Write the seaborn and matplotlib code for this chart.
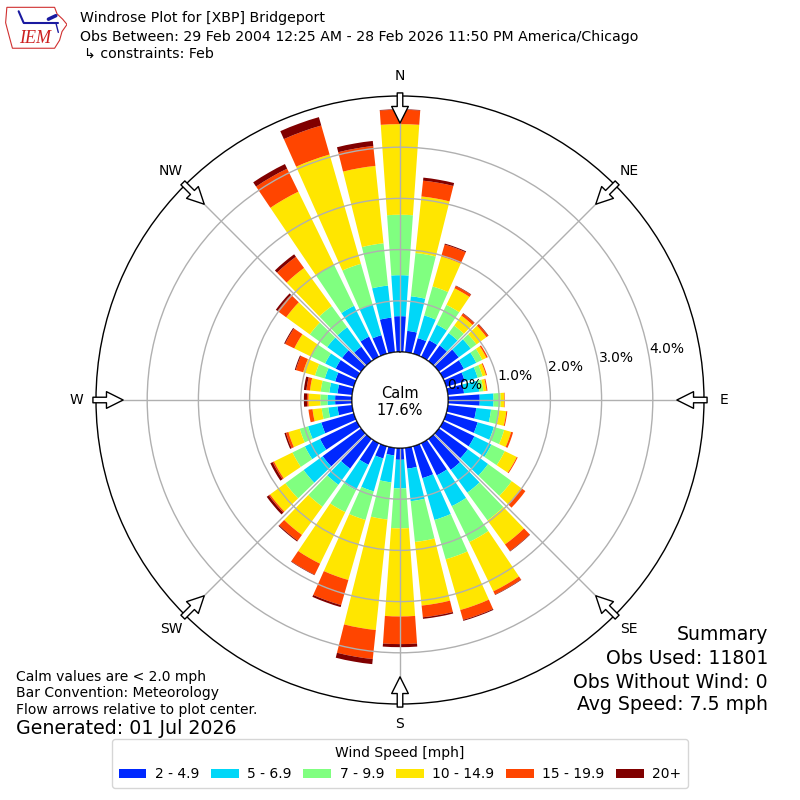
import numpy as np
import matplotlib
matplotlib.use("Agg")
import matplotlib.pyplot as plt
import seaborn as sns
from matplotlib.patches import Circle, Patch, Polygon

# ---------------- data (percent of observations) ----------------
directions = list(range(0, 360, 10))
speed_bins = ["2 - 4.9", "5 - 6.9", "7 - 9.9", "10 - 14.9", "15 - 19.9", "20+"]
bin_colors = ["#0028ff", "#00d7f8", "#80ff80", "#ffe600", "#ff4500", "#800000"]

pct_2_5 = [0.70, 0.42, 0.32, 0.36, 0.38, 0.48, 0.45, 0.38, 0.32, 0.62, 0.56, 0.64,
           0.68, 0.70, 0.75, 0.70, 0.65, 0.41, 0.23, 0.15, 0.25, 0.47, 0.72, 0.93,
           0.80, 0.66, 0.29, 0.33, 0.29, 0.38, 0.46, 0.46, 0.35, 0.44, 0.38, 0.68]
pct_5_7 = [0.80, 0.68, 0.46, 0.34, 0.30, 0.29, 0.27, 0.26, 0.30, 0.27, 0.29, 0.33,
           0.37, 0.49, 0.55, 0.67, 0.85, 0.64, 0.56, 0.53, 0.67, 0.55, 0.39, 0.46,
           0.33, 0.27, 0.18, 0.15, 0.16, 0.21, 0.23, 0.36, 0.47, 0.67, 0.62, 0.63]
pct_7_10 = [1.18, 0.85, 0.59, 0.43, 0.18, 0.14, 0.13, 0.10, 0.08, 0.14, 0.16, 0.21,
            0.29, 0.57, 0.67, 0.78, 0.80, 0.80, 0.78, 0.73, 0.58, 0.48, 0.53, 0.44,
            0.27, 0.17, 0.13, 0.14, 0.17, 0.20, 0.30, 0.42, 0.51, 0.89, 0.83, 0.83]
pct_10_15 = [1.77, 1.11, 0.61, 0.36, 0.24, 0.24, 0.09, 0.07, 0.06, 0.07, 0.14, 0.14,
             0.26, 0.23, 0.58, 1.07, 1.03, 1.25, 1.72, 2.17, 1.22, 1.12, 0.68, 0.37,
             0.40, 0.23, 0.18, 0.23, 0.21, 0.24, 0.37, 0.57, 0.92, 1.59, 2.22, 1.52]
pct_15_20 = [0.28, 0.31, 0.24, 0.05, 0.05, 0.04, 0.03, 0.02, 0.02, 0.01, 0.02, 0.04,
             0.02, 0.10, 0.16, 0.07, 0.20, 0.23, 0.54, 0.57, 0.51, 0.24, 0.14, 0.03,
             0.03, 0.05, 0.08, 0.03, 0.07, 0.15, 0.20, 0.21, 0.27, 0.50, 0.59, 0.39]
pct_20_up = [0.01, 0.06, 0.02, 0.01, 0.01, 0.01, 0.00, 0.00, 0.00, 0.00, 0.00, 0.00,
             0.00, 0.00, 0.01, 0.01, 0.02, 0.03, 0.06, 0.10, 0.04, 0.01, 0.02, 0.05,
             0.05, 0.03, 0.00, 0.06, 0.05, 0.02, 0.02, 0.04, 0.06, 0.10, 0.17, 0.10]

calm_pct = 17.6
radial_ticks = [0, 1, 2, 3, 4]
compass_labels = ["N", "NE", "E", "SE", "S", "SW", "W", "NW"]
compass_angles = [0, 45, 90, 135, 180, 225, 270, 315]

title_lines = ["Windrose Plot for [XBP] Bridgeport",
               "Obs Between: 29 Feb 2004 12:25 AM - 28 Feb 2026 11:50 PM America/Chicago",
               "\u21b3 constraints: Feb"]
notes_lines = ["Calm values are < 2.0 mph", "Bar Convention: Meteorology",
               "Flow arrows relative to plot center."]
generated = "Generated: 01 Jul 2026"
summary_lines = ["Summary", "Obs Used: 11801", "Obs Without Wind: 0", "Avg Speed: 7.5 mph"]

# ---------------- style ----------------
sns.set_style("white")
plt.rcParams["font.family"] = ["DejaVu Sans"]
plt.rcParams["text.color"] = "black"
plt.rcParams["axes.labelcolor"] = "black"
palette = sns.color_palette(bin_colors)

fig = plt.figure(figsize=(8, 8), dpi=100, facecolor="white")
ax = fig.add_axes([0.12, 0.12, 0.76, 0.76], projection="polar")
ax.set_facecolor("white")
ax.set_theta_zero_location("N")
ax.set_theta_direction(-1)

theta = np.radians(directions)
series = [pct_2_5, pct_5_7, pct_7_10, pct_10_15, pct_15_20, pct_20_up]
bottom = np.zeros(len(directions))
for vals, col in zip(series, palette):
    vals = np.asarray(vals)
    ax.bar(theta, vals, width=np.radians(8), bottom=bottom, color=col,
           linewidth=0, zorder=1)
    bottom = bottom + vals

rmax = 5.0
ax.set_ylim(0, rmax)
ax.set_rorigin(-0.9375)
ax.set_yticks(radial_ticks[1:])
ax.set_yticklabels([])
ax.set_xticks(np.radians(compass_angles))
ax.set_xticklabels([])
ax.set_axisbelow(False)
ax.grid(True, color="#b0b0b0", linewidth=1.0)
ax.spines["polar"].set_color("black")
ax.spines["polar"].set_linewidth(1.0)

# calm circle
ax.add_patch(Circle((0.5, 0.5), 48 / 608, transform=ax.transAxes, facecolor="white",
                    edgecolor="black", linewidth=1.0, zorder=4))
ax.text(0.5, 0.497, "Calm\n%.1f%%" % calm_pct, transform=ax.transAxes, ha="center",
        va="center", fontsize=10.5, zorder=5, linespacing=1.15, color="black")

# radial labels
for t in radial_ticks:
    ax.text(np.radians(80), t, "%.1f%%" % t, ha="left", va="bottom", fontsize=10,
            zorder=5, color="black")

# compass labels and flow arrows
for lab, ang in zip(compass_labels, compass_angles):
    th = np.radians(ang)
    ax.text(th, 5.39, lab, ha="center", va="center", fontsize=10, zorder=5, color="black")
    ax.annotate("", xy=(th, 4.47), xytext=(th, 5.06), annotation_clip=False,
                arrowprops=dict(arrowstyle="simple,head_length=0.6,head_width=0.6,tail_width=0.2",
                                fc="white", ec="black", lw=1.0, shrinkA=0, shrinkB=0,
                                mutation_scale=20), zorder=6)

# ---------------- header ----------------
ys = [18, 37, 54]
xs = [80, 80, 84]
for line, y, x in zip(title_lines, ys, xs):
    fig.text(x / 800, 1 - y / 800, line, fontsize=10.15, va="center", ha="left", color="black")

# simple IEM logo
lax = fig.add_axes([5 / 800, 1 - 50 / 800, 62 / 800, 44 / 800])
lax.set_xlim(0, 1)
lax.set_ylim(0, 1)
lax.axis("off")
iowa = [(0.03, 0.97), (0.80, 0.97), (0.84, 0.82), (0.93, 0.70), (1.0, 0.58),
        (0.92, 0.42), (0.88, 0.22), (0.80, 0.04), (0.12, 0.04), (0.07, 0.30),
        (0.01, 0.62), (0.03, 0.97)]
lax.add_patch(Polygon(iowa, closed=True, fill=False, edgecolor="#d03030", linewidth=0.8))
lax.plot([0.30, 0.85], [0.62, 0.62], color="#1a1aa0", lw=1.5)
lax.plot([0.30, 0.22], [0.62, 0.88], color="#1a1aa0", lw=1.5)
lax.plot([0.70, 0.82], [0.70, 0.78], color="#1a1aa0", lw=2.5)
lax.plot([0.82, 0.86], [0.62, 0.40], color="#1a1aa0", lw=1.0)
lax.text(0.48, 0.26, "IEM", color="#cc1f1f", fontsize=13, ha="center", va="center",
         family=["Liberation Serif", "DejaVu Serif"], style="italic")

# ---------------- footer texts ----------------
for line, y in zip(notes_lines, [677, 693, 710]):
    fig.text(16 / 800, 1 - y / 800, line, fontsize=10, va="center", ha="left", color="black")
fig.text(16 / 800, 1 - 729 / 800, generated, fontsize=13.7, va="center", ha="left", color="black")

for line, y in zip(summary_lines, [635, 659, 682, 705]):
    fig.text(768 / 800, 1 - y / 800, line, fontsize=13.6, va="center", ha="right", color="black")

handles = [Patch(facecolor=c, edgecolor="none", label=l) for c, l in zip(palette, speed_bins)]
leg = fig.legend(handles=handles, loc="lower center", bbox_to_anchor=(0.5, 0.006), ncol=6,
                 title="Wind Speed [mph]", fontsize=10, title_fontsize=10, frameon=True,
                 handletextpad=0.6, columnspacing=0.85, borderpad=0.5)
leg.get_frame().set_edgecolor("#cccccc")
for txt in leg.get_texts():
    txt.set_color("black")
leg.get_title().set_color("black")

fig.savefig("out.png", dpi=100, facecolor="white")
